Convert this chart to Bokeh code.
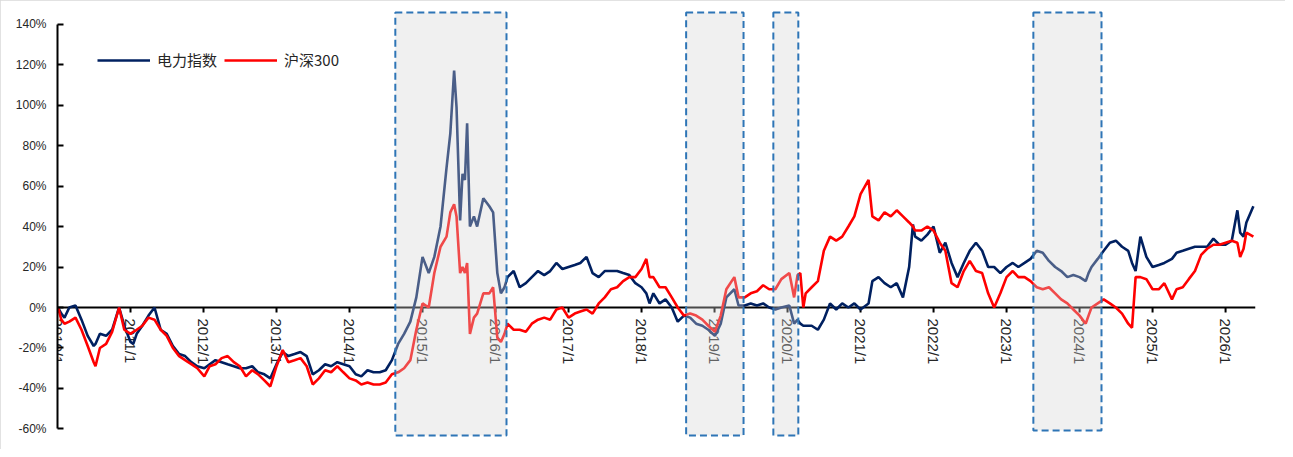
import math
import pandas as pd
from bokeh.plotting import figure
from bokeh.models import FixedTicker, Legend, CustomJSTickFormatter
from bokeh.core.properties import value
from bokeh.embed import file_html
from bokeh.resources import INLINE

# ---------------- data ----------------
dates = [
    "2010-01-04", "2010-01-20", "2010-02-05", "2010-03-01", "2010-04-01", "2010-05-01", "2010-06-01",
    "2010-07-01", "2010-07-10", "2010-08-01", "2010-09-01", "2010-10-01", "2010-11-05", "2010-12-01",
    "2011-01-01", "2011-01-15", "2011-02-01", "2011-03-01", "2011-04-01", "2011-05-01", "2011-06-01",
    "2011-07-01", "2011-08-01", "2011-09-01", "2011-10-01", "2011-11-01", "2011-12-01",
    "2012-01-05", "2012-02-01", "2012-03-01", "2012-04-01", "2012-05-01", "2012-06-01", "2012-07-01",
    "2012-08-01", "2012-09-01", "2012-10-01", "2012-11-01", "2012-12-01",
    "2013-01-01", "2013-02-01", "2013-03-01", "2013-04-01", "2013-05-01", "2013-06-01", "2013-07-01",
    "2013-08-01", "2013-09-01", "2013-10-01", "2013-11-01", "2013-12-01",
    "2014-01-01", "2014-02-01", "2014-03-01", "2014-04-01", "2014-05-01", "2014-06-01", "2014-07-01",
    "2014-08-01", "2014-09-01", "2014-10-01", "2014-11-01", "2014-12-01",
    "2015-01-01", "2015-02-01", "2015-03-01", "2015-04-01", "2015-05-01", "2015-05-20", "2015-06-08",
    "2015-06-20", "2015-07-08", "2015-07-20", "2015-08-01", "2015-08-12", "2015-08-26", "2015-09-15",
    "2015-10-01", "2015-11-01", "2015-12-01", "2015-12-20",
    "2016-01-10", "2016-01-28", "2016-02-15", "2016-03-01", "2016-04-01", "2016-05-01", "2016-06-01",
    "2016-07-01", "2016-08-01", "2016-09-01", "2016-10-01", "2016-11-01", "2016-12-01",
    "2017-01-01", "2017-02-01", "2017-03-01", "2017-04-01", "2017-05-01", "2017-06-01", "2017-07-01",
    "2017-08-01", "2017-09-01", "2017-10-01", "2017-11-01", "2017-12-01",
    "2018-01-01", "2018-01-25", "2018-02-10", "2018-03-01", "2018-04-01", "2018-05-01", "2018-06-01",
    "2018-07-01", "2018-08-01", "2018-09-01", "2018-10-01", "2018-11-01", "2018-12-01",
    "2019-01-03", "2019-02-01", "2019-03-01", "2019-04-10", "2019-05-01", "2019-06-01", "2019-07-01",
    "2019-08-01", "2019-09-01", "2019-10-01", "2019-11-01", "2019-12-01",
    "2020-01-10", "2020-02-03", "2020-02-20", "2020-03-05", "2020-03-20", "2020-04-01", "2020-05-01",
    "2020-06-01", "2020-07-01", "2020-08-01", "2020-09-01", "2020-10-01", "2020-11-01", "2020-12-01",
    "2021-01-01", "2021-02-10", "2021-03-01", "2021-04-01", "2021-05-01", "2021-06-01", "2021-07-01",
    "2021-08-01", "2021-09-01", "2021-09-20", "2021-10-01", "2021-11-01", "2021-12-01",
    "2022-01-01", "2022-02-01", "2022-03-01", "2022-04-01", "2022-05-01", "2022-06-01", "2022-07-01",
    "2022-08-01", "2022-09-01", "2022-10-01", "2022-10-31", "2022-12-01",
    "2023-01-01", "2023-02-01", "2023-03-01", "2023-04-01", "2023-05-01", "2023-06-01", "2023-07-01",
    "2023-08-01", "2023-09-01", "2023-10-01", "2023-11-01", "2023-12-01",
    "2024-01-01", "2024-02-01", "2024-02-15", "2024-03-01", "2024-04-01", "2024-05-01", "2024-06-01",
    "2024-07-01", "2024-08-01", "2024-09-01", "2024-09-20", "2024-10-08", "2024-11-01", "2024-12-01",
    "2025-01-01", "2025-02-01", "2025-03-01", "2025-04-08", "2025-05-01", "2025-06-01", "2025-07-01",
    "2025-08-01", "2025-09-01", "2025-10-01", "2025-11-01", "2025-12-01",
    "2026-01-01", "2026-02-01", "2026-03-01", "2026-03-15", "2026-04-01", "2026-04-15", "2026-05-20",
]

# 电力指数 (%)
power = [
    0, -3, -5, 0, 1, -6, -14, -19, -18, -13, -14, -11, 0, -9,
    -17, -18, -13, -9, -4, 0, -11, -13, -19, -23, -24, -27, -29,
    -30, -28, -26, -27, -28, -29, -30, -30, -29, -32, -33, -35,
    -28, -22, -24, -23, -22, -24, -33, -31, -28, -29, -27, -28,
    -29, -33, -34, -31, -32, -32, -31, -26, -18, -13, -7, 5,
    25, 17, 25, 40, 69, 86, 117, 99, 43, 66, 63, 91, 40, 45, 40, 54, 50, 47,
    17, 7, 10, 15, 18, 10, 12, 15, 18, 16, 18, 22, 19,
    20, 21, 22, 25, 17, 15, 18, 18, 18, 17, 16, 12,
    10, 7, 2, 7, 2, 4, 0, -7, -4, -5, -8, -9, -11,
    -14, -8, 5, 9, 1, 1, 2, 1, 2, 0, -1, 0,
    1, -8, -6, -8, -9, -9, -9, -11, -6, 2, -1, 2, 0, 2,
    -1, 2, 13, 15, 12, 10, 12, 5, 20, 41, 35, 33, 36,
    40, 27, 32, 22, 15, 22, 28, 32, 28, 20, 20, 17,
    20, 22, 20, 22, 24, 28, 27, 23, 20, 18, 15, 16,
    15, 13, 17, 20, 24, 28, 32, 33, 30, 28, 22, 18, 35, 25,
    20, 21, 22, 24, 27, 28, 29, 30, 30, 30, 34, 31,
    31, 33, 48, 37, 35, 42, 50,
]

# 沪深300 (%)
hs300 = [
    0, -6, -8, -7, -5, -11, -19, -27, -29, -20, -18, -12, 0, -11,
    -13, -12, -11, -9, -5, -6, -11, -14, -20, -24, -26, -28, -30,
    -34, -29, -28, -25, -24, -27, -29, -34, -31, -33, -36, -39,
    -29, -21, -27, -26, -25, -29, -38, -35, -31, -32, -29, -32,
    -35, -36, -38, -37, -38, -38, -37, -33, -32, -30, -26, -11,
    2, 0, 17, 30, 35, 47, 51, 45, 17, 20, 17, 22, -13, -5, -3, 7, 7, 10,
    -15, -17, -13, -8, -11, -11, -12, -8, -6, -5, -6, -1, 0,
    -5, -3, -2, -1, -3, 2, 5, 9, 10, 13, 15, 15,
    19, 24, 15, 15, 10, 10, 5, 0, -4, -3, -4, -6, -9,
    -12, -4, 9, 15, 5, 5, 7, 8, 11, 9, 9, 14,
    17, 5, 16, 17, 0, 7, 10, 13, 28, 35, 33, 35, 40, 45,
    56, 63, 45, 43, 47, 45, 48, 45, 42, 40, 38, 38, 40,
    38, 32, 28, 12, 10, 18, 23, 18, 17, 7, 0, 7,
    15, 18, 15, 15, 13, 10, 9, 10, 7, 4, 2, -1,
    -4, -8, -4, 0, 2, 4, 2, 0, -3, -8, -10, 15, 15, 14,
    9, 9, 12, 4, 9, 10, 14, 18, 26, 29, 31, 31,
    32, 33, 32, 25, 29, 37, 35,
]

series_names = ["电力指数", "沪深300"]
series_colors = ["#002060", "#ff0000"]

year_ticks = list(range(2010, 2027))
year_labels = [f"{y}/1" for y in year_ticks]
y_ticks = [-60, -40, -20, 0, 20, 40, 60, 80, 100, 120, 140]

# shaded periods
shade_start = ["2014-08-18", "2018-08-12", "2019-10-22", "2023-05-15"]
shade_end = ["2016-02-25", "2019-05-26", "2020-02-24", "2024-04-20"]
shade_bottom = [-63.2, -63.2, -63.2, -60.7]
shade_top = [145.7, 145.7, 145.7, 145.7]


def frac_year(s):
    t = pd.Timestamp(s)
    n = 366 if t.is_leap_year else 365
    return t.year + (t.dayofyear - 1) / n


x = [frac_year(d) for d in dates]
sx0 = [frac_year(d) for d in shade_start]
sx1 = [frac_year(d) for d in shade_end]

# ---------------- figure ----------------
PX_PER_PCT = 40.5 / 20.0  # layout scale used for pixel offsets below

p = figure(
    width=1285, height=449,
    output_backend="svg", toolbar_location=None,
    x_range=(2010, 2026.41), y_range=(-65.68, 146.67),
    x_axis_location=None,
    min_border_left=57, min_border_right=30, min_border_top=10, min_border_bottom=9,
)
p.styles = {"outline": "1px solid #d9d9d9", "outline-offset": "-1px"}
p.grid.visible = False
p.outline_line_color = None
p.background_fill_color = "white"
p.border_fill_color = "white"

yax = p.yaxis[0]
yax.ticker = FixedTicker(ticks=y_ticks)
yax.formatter = CustomJSTickFormatter(code="return tick + '%';")
yax.bounds = (-60, 140)
yax.axis_line_width = 2
yax.axis_line_color = "black"
yax.major_tick_in = 6
yax.major_tick_out = 0
yax.major_tick_line_width = 2
yax.major_tick_line_color = "black"
yax.minor_tick_line_color = None
yax.major_label_standoff = 11
yax.major_label_text_font = "Liberation Sans"
yax.major_label_text_font_size = "12px"
yax.major_label_text_color = "#262626"

# zero line acting as the x axis
p.line([p.x_range.start, p.x_range.end], [0, 0], line_color="black", line_width=2)
tick_len = 5 / PX_PER_PCT
p.segment(x0=year_ticks, y0=[0] * len(year_ticks), x1=year_ticks, y1=[-tick_len] * len(year_ticks),
          line_color="black", line_width=2)
p.text(x=year_ticks, y=[-11 / PX_PER_PCT] * len(year_ticks), text=year_labels,
       angle=-math.pi / 2, text_align="left", text_baseline="middle",
       text_font=value("Liberation Sans"), text_font_size="15px", text_color="#262626")

r1 = p.line(x, power, line_color=series_colors[0], line_width=2.6)
r2 = p.line(x, hs300, line_color=series_colors[1], line_width=2.6)

# shaded periods on top
p.quad(left=sx0, right=sx1, bottom=shade_bottom, top=shade_top,
       fill_color="#d3d3d3", fill_alpha=0.35,
       line_color="#2e75b6", line_width=2, line_dash="7 4")

legend = Legend(
    items=[(series_names[0], [r1]), (series_names[1], [r2])],
    orientation="horizontal", location=(40, 370),
    glyph_width=53, glyph_height=20, label_standoff=7, spacing=7,
    padding=0, margin=0, border_line_color=None, background_fill_alpha=0,
    label_text_font="Noto Sans CJK SC", label_text_font_size="15px", label_text_color="#262626",
)
p.add_layout(legend, "center")

open("out.html", "w").write(file_html(p, INLINE))
